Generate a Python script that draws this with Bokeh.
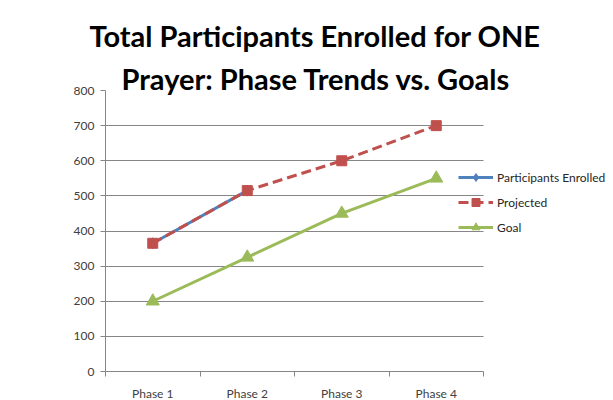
from bokeh.plotting import figure
from bokeh.models import (Range1d, FixedTicker, Legend, LegendItem, Title)
from bokeh.embed import file_html
from bokeh.resources import INLINE

phases = ["Phase 1", "Phase 2", "Phase 3", "Phase 4"]
enrolled = [365, 515]
projected = [365, 515, 600, 700]
goal = [200, 325, 450, 550]
title_lines = ["Total Participants Enrolled for ONE", "Prayer: Phase Trends vs. Goals"]
y_ticks = [0, 100, 200, 300, 400, 500, 600, 700, 800]

xs = [i + 1 for i in range(len(phases))]
x_lo, x_hi = 0.5, len(phases) + 0.5
bounds_ticks = [x_lo + i for i in range(len(phases) + 1)]

BLUE = "#4F81BD"
RED = "#C0504D"
GREEN = "#9BBB59"
AXIS = "#868686"
FONT = "Lato"

# frame extends to the right edge so the legend can overlap the plot area
p = figure(frame_width=508, frame_height=281, output_backend="svg",
           toolbar_location=None, x_range=Range1d(x_lo, x_lo + 508 / 94.5),
           y_range=Range1d(0, 800),
           min_border_left=105, min_border_right=0,
           min_border_top=90, min_border_bottom=29)
p.outline_line_color = None
p.xgrid.grid_line_color = None
p.ygrid.grid_line_color = AXIS
p.ygrid.grid_line_width = 1
p.ygrid.ticker = FixedTicker(ticks=y_ticks)
p.ygrid.cross_bounds = (x_lo, x_hi)

p.yaxis.ticker = FixedTicker(ticks=y_ticks)
p.yaxis.axis_line_color = AXIS
p.yaxis.major_tick_line_color = AXIS
p.yaxis.major_tick_out = 5
p.yaxis.major_tick_in = 0
p.yaxis.minor_tick_line_color = None
p.yaxis.major_label_text_font = FONT
p.yaxis.major_label_text_font_size = "12px"
p.yaxis.major_label_text_color = "#404040"
p.yaxis.major_label_standoff = 6

p.xaxis.bounds = (x_lo, x_hi)
p.xaxis.ticker = FixedTicker(ticks=xs, minor_ticks=bounds_ticks)
p.xaxis.major_label_overrides = {x: lab for x, lab in zip(xs, phases)}
p.xaxis.axis_line_color = AXIS
p.xaxis.major_tick_line_color = None
p.xaxis.minor_tick_line_color = AXIS
p.xaxis.minor_tick_out = 5
p.xaxis.minor_tick_in = 0
p.xaxis.major_tick_out = 5
p.xaxis.major_label_text_font = FONT
p.xaxis.major_label_text_font_size = "12px"
p.xaxis.major_label_text_color = "#404040"
p.xaxis.major_label_standoff = 9

ex = xs[:len(enrolled)]
l1 = p.line(ex, enrolled, line_color=BLUE, line_width=3)
m1 = p.scatter(ex, enrolled, marker="diamond", size=11, fill_color=BLUE, line_color=BLUE)
l2 = p.line(xs, projected, line_color=RED, line_width=3, line_dash="10 5")
m2 = p.scatter(xs, projected, marker="square", size=10, fill_color=RED, line_color=RED)
l3 = p.line(xs, goal, line_color=GREEN, line_width=3)
m3 = p.scatter(xs, goal, marker="triangle", size=13, fill_color=GREEN, line_color=GREEN)

legend = Legend(items=[
    LegendItem(label="Participants Enrolled", renderers=[l1, m1]),
    LegendItem(label="Projected", renderers=[l2, m2]),
    LegendItem(label="Goal", renderers=[l3, m3]),
], location=(353, 134), padding=0, margin=0, spacing=5,
    glyph_width=35, glyph_height=20, label_standoff=4,
    label_text_font=FONT, label_text_font_size="12px",
    label_text_color="#262626",
    border_line_color=None, background_fill_alpha=0)
p.add_layout(legend, "center")

# second line sits next to the frame, first line above it
p.add_layout(Title(text=title_lines[1], align="left", offset=16, standoff=-10,
                   text_font=FONT, text_font_style="bold",
                   text_font_size="29px", text_color="black"), "above")
p.add_layout(Title(text=title_lines[0], align="left", offset=-16, standoff=21,
                   text_font=FONT, text_font_style="bold",
                   text_font_size="29px", text_color="black"), "above")

open("out.html", "w").write(file_html(p, INLINE))
